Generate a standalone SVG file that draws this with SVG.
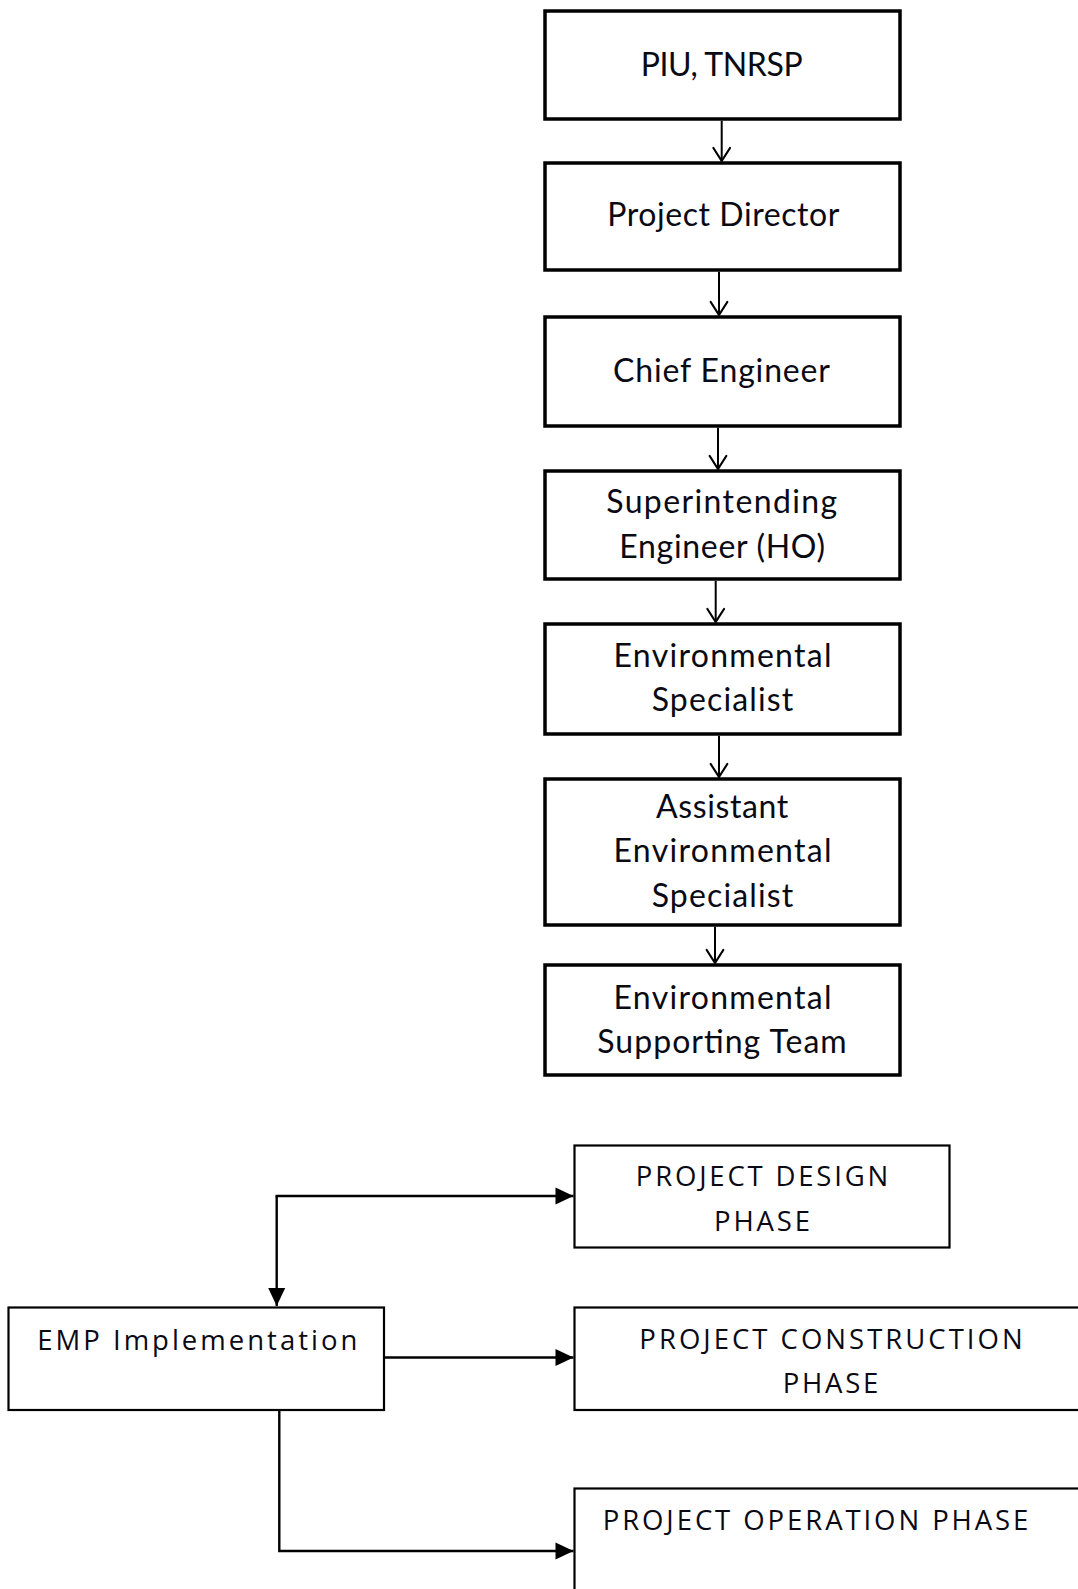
<svg xmlns="http://www.w3.org/2000/svg" width="1078" height="1589" viewBox="0 0 1078 1589">
<style>
.bk{fill:#fff;stroke:#000;stroke-width:3.5}
.bt{fill:#fff;stroke:#000;stroke-width:2.2}
.t1{font-family:Lato,"Open Sans","Liberation Sans",sans-serif;font-size:32px;fill:#0a0a14;text-anchor:middle}
.t2{font-family:"Open Sans","Noto Sans","Liberation Sans",sans-serif;font-size:27.5px;fill:#0a0a14}
.c{text-anchor:middle}
.ln{fill:none;stroke:#000;stroke-width:2}
.lb{fill:none;stroke:#000;stroke-width:2.4}
</style>
<defs>
<marker id="open" markerUnits="userSpaceOnUse" orient="auto" overflow="visible" markerWidth="20" markerHeight="20" refX="0" refY="0">
<path d="M-13,-8.3 L0,0 L-13,8.3" fill="none" stroke="#000" stroke-width="2.2" stroke-linecap="round" stroke-linejoin="round"/>
</marker>
<marker id="fill" markerUnits="userSpaceOnUse" orient="auto" overflow="visible" markerWidth="20" markerHeight="20" refX="0" refY="0">
<path d="M-18,-8.5 L0,0 L-18,8.5 Z" fill="#000"/>
</marker>
</defs>

<g id="piu">
<rect class="bk" x="545" y="11" width="355" height="108"/>
<text class="t1" x="721.7" y="76" textLength="162">PIU, TNRSP</text>
</g>
<g id="project-director">
<rect class="bk" x="545" y="163" width="355" height="107"/>
<text class="t1" x="723.3" y="226" textLength="232">Project Director</text>
</g>
<g id="chief-engineer">
<rect class="bk" x="545" y="317" width="355" height="109"/>
<text class="t1" x="721.5" y="381.7" textLength="217">Chief Engineer</text>
</g>
<g id="superintending-engineer">
<rect class="bk" x="545" y="471" width="355" height="108"/>
<text class="t1" x="721.7" y="513.3" textLength="231">Superintending</text>
<text class="t1" x="722.2" y="558.3" textLength="205.7">Engineer (HO)</text>
</g>
<g id="environmental-specialist">
<rect class="bk" x="545" y="624" width="355" height="110"/>
<text class="t1" x="722.5" y="667.3" textLength="218">Environmental</text>
<text class="t1" x="722.5" y="710.7" textLength="141.7">Specialist</text>
</g>
<g id="assistant-environmental-specialist">
<rect class="bk" x="545" y="779" width="355" height="146"/>
<text class="t1" x="722.2" y="818.3" textLength="132.3">Assistant</text>
<text class="t1" x="722.5" y="862.3" textLength="218">Environmental</text>
<text class="t1" x="722.5" y="906.7" textLength="141.7">Specialist</text>
</g>
<g id="environmental-supporting-team">
<rect class="bk" x="545" y="965" width="355" height="110"/>
<text class="t1" x="722.5" y="1009" textLength="218">Environmental</text>
<text class="t1" x="722" y="1053.3" textLength="249.4">Supporting Team</text>
</g>

<g id="emp-implementation">
<rect class="bt" x="8.5" y="1307.5" width="375.5" height="102.5"/>
<text class="t2" x="37.3" y="1349.5" textLength="320">EMP Implementation</text>
</g>
<g id="project-design-phase">
<rect class="bt" x="574.5" y="1145.5" width="375" height="102"/>
<text class="t2 c" x="762" y="1186" textLength="252.3">PROJECT DESIGN</text>
<text class="t2 c" x="762" y="1230.7" textLength="96">PHASE</text>
</g>
<g id="project-construction-phase">
<rect class="bt" x="574.5" y="1307.5" width="520" height="102.5"/>
<text class="t2 c" x="831" y="1349" textLength="383.3">PROJECT CONSTRUCTION</text>
<text class="t2 c" x="830.5" y="1393.3" textLength="95.7">PHASE</text>
</g>
<g id="project-operation-phase">
<rect class="bt" x="574.5" y="1488.5" width="520" height="130"/>
<text class="t2" x="602.7" y="1530" textLength="425.7">PROJECT OPERATION PHASE</text>
</g>

<g id="connectors">
<path class="ln" d="M721.7,120.8 V161" marker-end="url(#open)"/>
<path class="ln" d="M719,271.8 V315" marker-end="url(#open)"/>
<path class="ln" d="M718,427.8 V469" marker-end="url(#open)"/>
<path class="ln" d="M715.7,580.8 V622" marker-end="url(#open)"/>
<path class="ln" d="M719,735.8 V777" marker-end="url(#open)"/>
<path class="ln" d="M715,926.8 V963" marker-end="url(#open)"/>
<path class="lb" d="M276.7,1196 V1306" marker-end="url(#fill)"/>
<path class="lb" d="M275.5,1196 H573.5" marker-end="url(#fill)"/>
<path class="lb" d="M385,1357.5 H573.5" marker-end="url(#fill)"/>
<path class="lb" d="M279.3,1411 V1551 H573.5" marker-end="url(#fill)"/>
</g>
</svg>
